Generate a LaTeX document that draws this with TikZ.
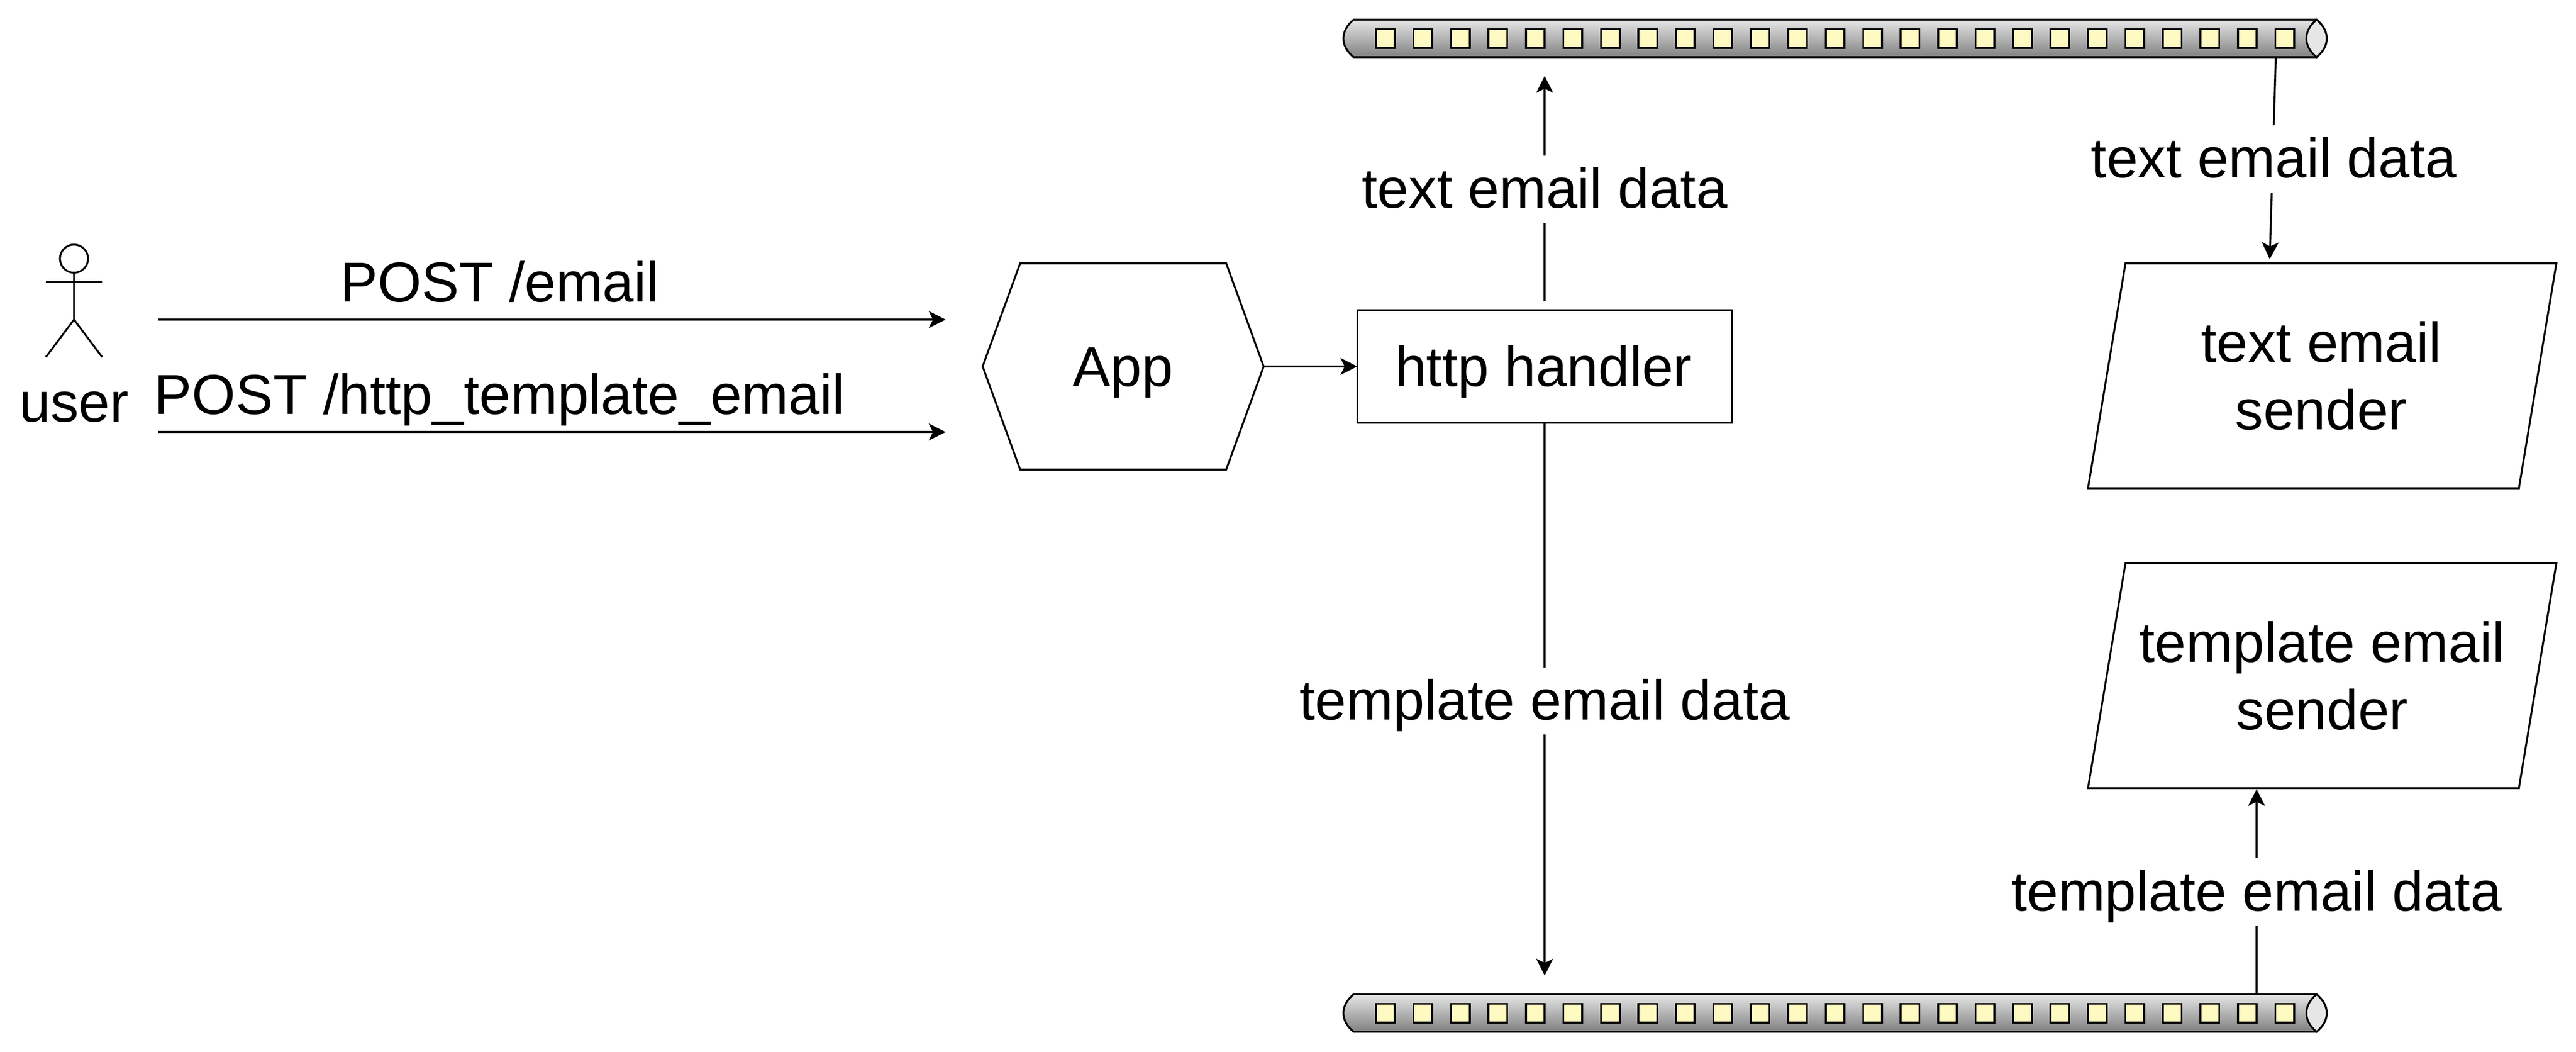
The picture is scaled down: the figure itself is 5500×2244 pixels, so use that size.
\documentclass[tikz,border=0pt]{standalone}
\usepackage{fontspec}
\setmainfont{Liberation Sans}
\usetikzlibrary{arrows.meta,calc}
\definecolor{slotfill}{HTML}{FFF9C2}
\definecolor{tubelight}{HTML}{E6E6E6}
\definecolor{tubedark}{HTML}{808080}
\tikzset{
  every node/.style={font=\fontsize{24}{28.8}\selectfont,text=black},
  outline/.style={draw=black,line width=0.8pt,fill=white,line join=miter},
  anchorbox/.style={inner sep=0pt,outer sep=0pt},
  conn/.style={draw=black,line width=0.8pt,-{Stealth[length=7.2pt,width=7.2pt,inset=1.8pt]}},
  plainline/.style={draw=black,line width=0.8pt},
  flowlabel/.style={anchor=base,fill=white,inner xsep=0pt,inner ysep=0pt,text height=22.4pt,text depth=6.4pt},
  plaintext/.style={anchor=base,inner sep=0pt},
  twoline/.style={anchor=base,inner sep=0pt,align=center},
  queuebar/.pic={
    \shade[top color=tubelight,bottom color=tubedark,draw=black,line width=0.8pt]
      (2890,42) -- (4946,42) .. controls (4975,66) and (4975,98) .. (4946,122)
      -- (2890,122) .. controls (2861,98) and (2861,66) .. (2890,42) -- cycle;
    \foreach \k in {0,...,24} {
      \draw[fill=slotfill,draw=black,line width=0.8pt] ({2938+80*\k},62) rectangle ({2978+80*\k},102);
    }
    \draw[fill=tubelight,draw=black,line width=0.8pt]
      (4946,42) .. controls (4975,66) and (4975,98) .. (4946,122)
      .. controls (4917,98) and (4917,66) .. (4946,42) -- cycle;
  }
}
\begin{document}
\begin{tikzpicture}[x=0.2pt,y=-0.2pt]
\useasboundingbox (0,0) rectangle (5500,2244);

% message queues
\pic at (0,0) {queuebar};
\pic at (0,2080) {queuebar};
\node[anchorbox,minimum width=420pt,minimum height=16pt] (qtext) at (3918,82) {};
\node[anchorbox,minimum width=420pt,minimum height=16pt] (qtmpl) at (3918,2162) {};

% actor
\draw[plainline] (158,552) circle[radius=30];
\draw[plainline] (158,582) -- (158,682) (98,602) -- (218,602) (98,762) -- (158,682) -- (218,762);
\node[plaintext] (user) at (158,900) {user};

% hexagon App
\node[anchorbox,minimum width=120pt,minimum height=88pt] (app) at (2398,782) {};
\draw[outline] (app.west) -- ($(app.north west)+(80,0)$) -- ($(app.north east)+(-80,0)$) -- (app.east)
  -- ($(app.south east)+(-80,0)$) -- ($(app.south west)+(80,0)$) -- cycle;
\node[plaintext] (applabel) at (2398,824) {App};

% http handler
\node[outline,anchorbox,minimum width=160pt,minimum height=48pt] (http) at (3298,782) {};
\node[plaintext] (httplabel) at (3296,824) {http handler};

% senders
\node[anchorbox,minimum width=200pt,minimum height=96pt] (tsend) at (4958,802) {};
\draw[outline] ($(tsend.north west)+(80,0)$) -- (tsend.north east) -- ($(tsend.south east)+(-80,0)$) -- (tsend.south west) -- cycle;
\node[twoline] (tsendlabel) at (4956,917) {text email\\sender};
\node[anchorbox,minimum width=200pt,minimum height=96pt] (msend) at (4958,1442) {};
\draw[outline] ($(msend.north west)+(80,0)$) -- (msend.north east) -- ($(msend.south east)+(-80,0)$) -- (msend.south west) -- cycle;
\node[twoline] (msendlabel) at (4958,1557) {template email\\sender};

% connector ends
\coordinate (postAfrom) at (338,682);
\coordinate (postAto) at (2019,682);
\coordinate (postBfrom) at (338,922);
\coordinate (postBto) at (2019,922);
\coordinate (upfrom) at (3298,642);
\coordinate (upto) at (3298,162);
\coordinate (downto) at (3298,2082);
\coordinate (qtextout) at (4859,122);
\coordinate (tsendin) at (4846,553);
\coordinate (qtmplout) at (4818,2122);
\coordinate (msendin) at (4818,1684);

% connectors
\draw[conn] (postAfrom) -- (postAto);
\draw[conn] (postBfrom) -- (postBto);
\draw[conn] (app.east) -- (http.west);
\draw[conn] (upfrom) -- (upto);
\draw[conn] (http.south) -- (downto);
\draw[conn] (qtextout) -- (tsendin);
\draw[conn] (qtmplout) -- (msendin);

% labels
\node[plaintext] (postAlabel) at (1067,644) {POST /email};
\node[plaintext] (postBlabel) at (1067,884) {POST /http\_template\_email};
\node[flowlabel] (uplabel) at (3298,444) {text email data};
\node[flowlabel] (downlabel) at (3298,1536) {template email data};
\node[flowlabel] (qtextlabel) at (4855,379) {text email data};
\node[flowlabel] (qtmpllabel) at (4818,1944) {template email data};
\end{tikzpicture}
\end{document}
